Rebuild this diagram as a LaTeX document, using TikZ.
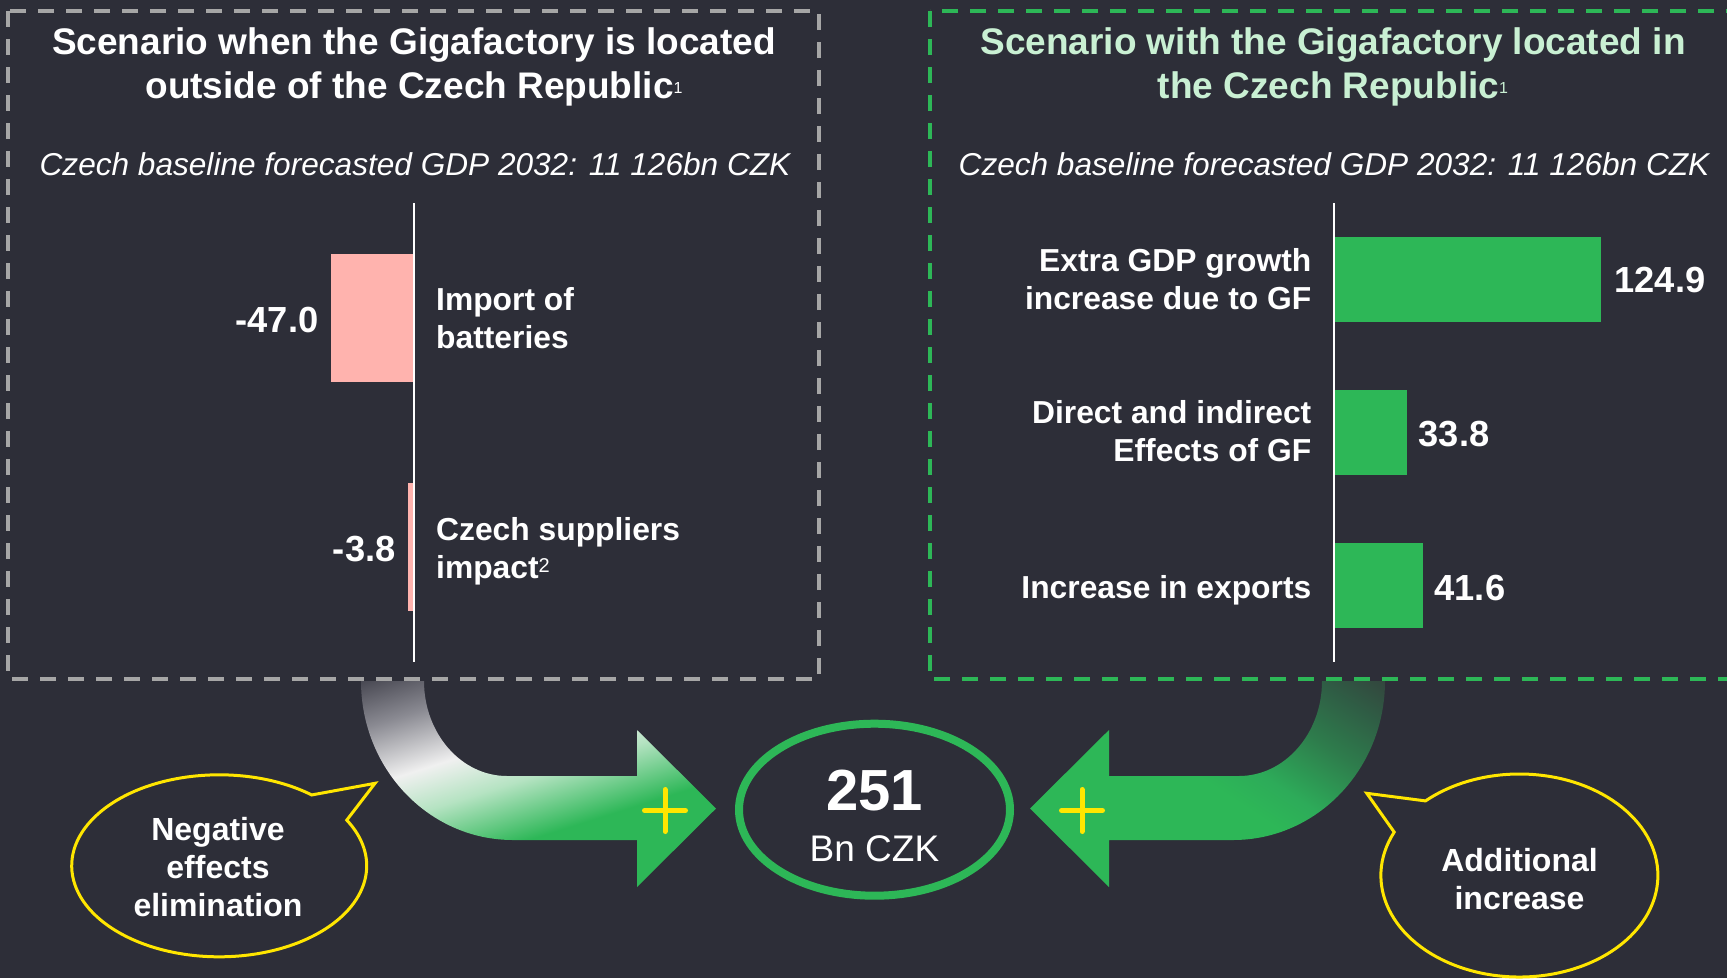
\documentclass[tikz,border=0pt]{standalone}
\usepackage{fontspec}
\setmainfont{Liberation Sans}
\usetikzlibrary{shapes.geometric,shapes.callouts}

\definecolor{bgc}{HTML}{2D2E38}
\definecolor{grn}{HTML}{2DB757}
\definecolor{pinkc}{HTML}{FFB3AE}
\definecolor{dashgray}{HTML}{A6A6A6}
\definecolor{yel}{HTML}{FFE600}
\definecolor{mint}{HTML}{C9F0D3}
\definecolor{lgA}{HTML}{4A4A54}
\definecolor{lgB}{HTML}{8A8A92}
\definecolor{lgC}{HTML}{F0F0F0}
\definecolor{lgD}{HTML}{B5E3C2}
\definecolor{rgA}{HTML}{34403C}
\definecolor{rgB}{HTML}{2F5E45}
\definecolor{rgC}{HTML}{2E7C4C}
\definecolor{rgD}{HTML}{2DAB59}

\pgfdeclarehorizontalshading{leftarrowshade}{100bp}{color(0bp)=(lgA); color(37.6bp)=(lgA); color(41.3bp)=(lgB); color(46bp)=(lgC); color(49.4bp)=(lgD); color(54.3bp)=(grn); color(100bp)=(grn)}
\pgfdeclarehorizontalshading{rightarrowshade}{100bp}{color(0bp)=(rgA); color(34bp)=(rgA); color(38bp)=(rgB); color(42bp)=(rgC); color(47bp)=(rgD); color(50bp)=(grn); color(100bp)=(grn)}

\newcommand{\mysup}[3]{\raisebox{#1}{\fontsize{#2}{#2}\selectfont\mdseries #3}}

\begin{document}
\begin{tikzpicture}[x=1pt,y=-1pt,
  titletext/.style={font=\fontsize{37}{44}\selectfont\bfseries, align=center, inner sep=0pt},
  subtext/.style={font=\fontsize{31.6}{36}\selectfont\itshape, text=white, inner sep=0pt},
  labeltext/.style={font=\fontsize{31.8}{38}\selectfont\bfseries, text=white, inner sep=0pt},
  valtext/.style={font=\fontsize{36.3}{40}\selectfont\bfseries, text=white, inner sep=0pt},
  bubbletext/.style={font=\fontsize{32}{38}\selectfont\bfseries, text=white, align=center},
  graybox/.style={draw=dashgray, line width=4pt, dash pattern=on 16pt off 12pt},
  greenbox/.style={draw=grn, line width=4pt, dash pattern=on 16pt off 12pt},
  axisline/.style={draw=white, line width=2.5pt},
  plusline/.style={draw=yel, line width=5pt, line cap=round},
  bubble/.style={ellipse callout, draw=yel, line width=3pt, fill=bgc, inner sep=0pt},
]
\useasboundingbox (0,0) rectangle (1727,978);
\fill[bgc] (0,0) rectangle (1727,978);
\clip (0,0) rectangle (1727,978);

% dashed frames
\draw[graybox] (8,11) rectangle (819,679);
\draw[greenbox] (930,11) rectangle (1760,679);

% titles
\node[titletext, text=white] (tl) at (414,67) {Scenario when the Gigafactory is located\\outside of the Czech Republic\mysup{5.5pt}{16}{1}};
\node[titletext, text=mint] (tr) at (1333,67) {Scenario with the Gigafactory located in\\the Czech Republic\mysup{5.5pt}{16}{1}};
\node[subtext] (sl) at (415,164) {Czech baseline forecasted GDP 2032: 11 126bn CZK};
\node[subtext] (sr) at (1334,164) {Czech baseline forecasted GDP 2032: 11 126bn CZK};

% left chart
\fill[pinkc] (330.5,254) rectangle (414,381.7);
\fill[pinkc] (407.6,483.3) rectangle (414,610.7);
\coordinate (axl1) at (414,203);
\coordinate (axl2) at (414,661.7);
\draw[axisline] (axl1) -- (axl2);
\node[valtext, anchor=east] (vl1) at (318.6,320) {-47.0};
\node[valtext, anchor=east] (vl2) at (395.7,549.5) {-3.8};
\node[labeltext, anchor=west, align=left] (ll1) at (436,318) {Import of\\batteries};
\node[labeltext, anchor=west, align=left] (ll2) at (436,551) {Czech suppliers\\impact\mysup{6pt}{20}{2}};

% right chart
\fill[grn] (1334,236.7) rectangle (1601.3,321.7);
\fill[grn] (1334,390) rectangle (1406.6,475);
\fill[grn] (1334,543.3) rectangle (1422.8,627.7);
\coordinate (axr1) at (1334,203);
\coordinate (axr2) at (1334,661.7);
\draw[axisline] (axr1) -- (axr2);
\node[valtext, anchor=west] (vr1) at (1614.3,280) {124.9};
\node[valtext, anchor=west] (vr2) at (1418.6,434) {33.8};
\node[valtext, anchor=west] (vr3) at (1434.4,587.5) {41.6};
\node[labeltext, anchor=east, align=right] (lr1) at (1311.5,279) {Extra GDP growth\\increase due to GF};
\node[labeltext, anchor=east, align=right] (lr2) at (1311.5,431) {Direct and indirect\\Effects of GF};
\node[labeltext, anchor=east] (lr3) at (1311.5,590.5) {Increase in exports};

% left curved arrow
\begin{scope}
\clip (361,681) .. controls (361,768.8) and (429,840) .. (513,840) -- (637,840) -- (637,887) -- (716,808.5) -- (637,730) -- (637,776) -- (507,776) .. controls (461.2,776) and (424,733.5) .. (424,681) -- cycle;
\shade[shading=leftarrowshade, shading angle=-72.5] (237,483) rectangle (837,1083);
\end{scope}

% right curved arrow
\begin{scope}
\clip (1385,681) .. controls (1385,768.8) and (1317,840) .. (1233,840) -- (1109,840) -- (1109,887) -- (1030,808.5) -- (1109,730) -- (1109,776) -- (1239,776) .. controls (1284.8,776) and (1322,733.5) .. (1322,681) -- cycle;
\shade[shading=rightarrowshade, shading angle=236.6] (909,483) rectangle (1509,1083);
\end{scope}

% plus signs
\draw[plusline] (644.5,810.5) -- (685.5,810.5);
\draw[plusline] (665,789.5) -- (665,831.5);
\draw[plusline] (1061.5,810.5) -- (1102.5,810.5);
\draw[plusline] (1082,789.5) -- (1082,831.5);

% total
\node[ellipse, draw=grn, line width=8pt, minimum width=271pt, minimum height=172pt, inner sep=0pt] (tot) at (874.5,809.7) {};
\node[font=\fontsize{58}{58}\selectfont\bfseries, text=white, inner sep=0pt] (totn) at (874.5,791) {251};
\node[font=\fontsize{37}{37}\selectfont, text=white, inner sep=0pt] (totu) at (874.5,848.5) {Bn CZK};

% bubbles
\node[bubble, minimum width=295pt, minimum height=182pt, callout absolute pointer={(375,783.3)}, callout pointer arc=21] (bl) at (219.2,865.8) {};
\node[bubbletext, inner sep=0pt] (blt) at (218,867) {Negative\\effects\\elimination};
\node[bubble, minimum width=277pt, minimum height=203pt, callout absolute pointer={(1366.8,793.3)}, callout pointer arc=22] (br) at (1519.4,875.5) {};
\node[bubbletext, inner sep=0pt] (brt) at (1519.5,879) {Additional\\increase};
\end{tikzpicture}
\end{document}
